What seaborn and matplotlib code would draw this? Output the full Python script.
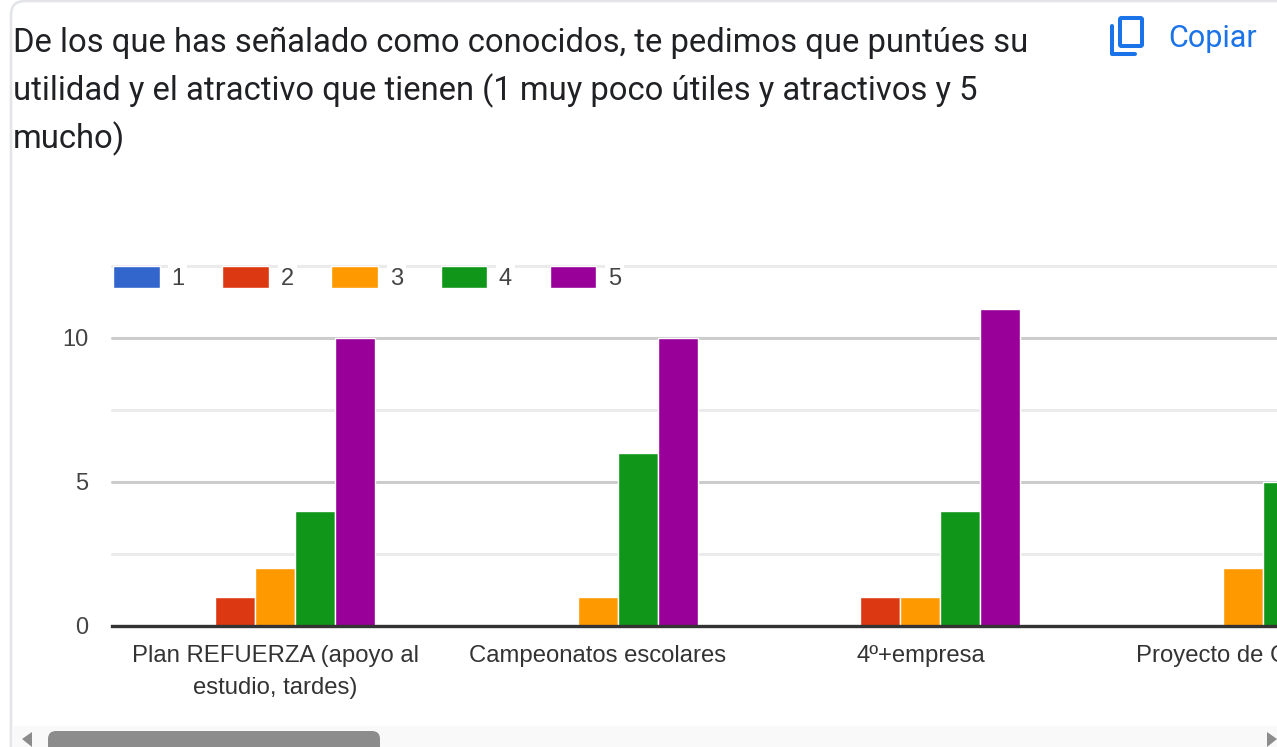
import pandas as pd
import matplotlib
matplotlib.use('Agg')
import matplotlib.pyplot as plt
import seaborn as sns
from matplotlib.patches import FancyBboxPatch, Polygon, Rectangle

# datos
programas = ['Plan REFUERZA (apoyo al\nestudio, tardes)', 'Campeonatos escolares',
             '4º+empresa', 'Proyecto de Ciencia']
puntuaciones = ['1', '2', '3', '4', '5']
votos_1 = [0, 0, 0, 0]
votos_2 = [1, 0, 1, 0]
votos_3 = [2, 1, 1, 2]
votos_4 = [4, 6, 4, 5]
votos_5 = [10, 10, 11, 7]  # el ultimo queda fuera del encuadre, estimado
colores = ['#3366cc', '#dc3912', '#ff9900', '#109618', '#990099']

titulo = ['De los que has señalado como conocidos, te pedimos que puntúes su',
          'utilidad y el atractivo que tienen (1 muy poco útiles y atractivos y 5',
          'mucho)']

W, H = 1277, 747

sns.set_theme(style='white')
plt.rcParams['font.family'] = ['Liberation Sans', 'DejaVu Sans']

filas = []
for punt, valores in zip(puntuaciones, [votos_1, votos_2, votos_3, votos_4, votos_5]):
    for prog, v in zip(programas, valores):
        filas.append({'programa': prog, 'puntuacion': punt, 'votos': v})
df = pd.DataFrame(filas)

fig = plt.figure(figsize=(W / 100, H / 100), dpi=100, facecolor='white')

# capa de fondo en pixeles: tarjeta, titulo, boton copiar, barra de scroll
bg = fig.add_axes([0, 0, 1, 1])
bg.set_xlim(0, W)
bg.set_ylim(H, 0)
bg.axis('off')

bg.add_patch(FancyBboxPatch((11, 1), W + 60, H + 60, boxstyle='round,pad=0,rounding_size=14',
                            fc='white', ec='#e3e5e8', lw=1.9))
for i, linea in enumerate(titulo):
    bg.text(13, 52 + i * 48, linea, family='Roboto', fontsize=23.6, color='#202124', va='baseline')

azul = '#1a73e8'
bg.add_patch(FancyBboxPatch((1120, 18), 22, 28, boxstyle='round,pad=0,rounding_size=1.5',
                            fc='none', ec=azul, lw=2.9))
bg.plot([1112, 1112, 1135], [26, 54, 54], color=azul, lw=2.9, solid_joinstyle='round', solid_capstyle='round')
bg.text(1168, 47, 'Copiar', family='Roboto', fontsize=22, color=azul, va='baseline')

bg.add_patch(Rectangle((12, 726), W, 21, fc='#f9f9f9', ec='none'))
bg.add_patch(FancyBboxPatch((48, 731), 332, 30, boxstyle='round,pad=0,rounding_size=8',
                            fc='#8c8c8c', ec='none', clip_on=True))
bg.add_patch(Polygon([[32, 732], [22, 739], [32, 747]], fc='#8c8c8c', ec='none'))
bg.add_patch(Polygon([[1267, 732], [1277, 739], [1267, 747]], fc='#8c8c8c', ec='none'))

# grafico
ax = fig.add_axes([112 / W, (H - 626) / H, (W - 112) / W, 360 / H])
ax.patch.set_alpha(0)
sns.barplot(data=df, x='programa', y='votos', hue='puntuacion', hue_order=puntuaciones,
            order=programas, palette=colores, saturation=1, width=0.62, gap=0,
            edgecolor='white', linewidth=1, ax=ax)

ax.set_xlim((112 - 275) / 322.7, (W - 275) / 322.7)
ax.set_ylim(0, 12.5)
ax.set_xlabel('')
ax.set_ylabel('')
ax.set_yticks([0, 5, 10])
ax.set_yticks([2.5, 7.5, 12.5], minor=True)
ax.set_axisbelow(True)
ax.grid(True, which='major', axis='y', color='#cccccc', lw=2.2, clip_on=False)
ax.grid(True, which='minor', axis='y', color='#ebebeb', lw=2.2, clip_on=False)
ax.grid(False, axis='x')
sns.despine(ax=ax, left=True, right=True, top=True)
ax.spines['bottom'].set_color('#333333')
ax.spines['bottom'].set_linewidth(2.4)
ax.tick_params(axis='both', which='both', length=0)
ax.tick_params(axis='y', labelsize=17, labelcolor='#444444', pad=17)
ax.tick_params(axis='x', labelsize=17.2, labelcolor='#333333', pad=14)
for t in ax.get_xticklabels():
    t.set_linespacing(1.56)
    t.set_va('top')

handles, etiquetas = ax.get_legend_handles_labels()
ley = ax.legend(handles, etiquetas, ncols=5, loc='upper left', bbox_to_anchor=(1 / 1165, 1.0),
                frameon=False, fontsize=17, borderpad=0, borderaxespad=0,
                handlelength=1.97, handleheight=1.06, handletextpad=0.5, columnspacing=1.6)
for t in ley.get_texts():
    t.set_color('#444444')
    t.set_bbox(dict(fc='white', ec='none', pad=2))

fig.savefig('out.png', dpi=100, facecolor='white')
